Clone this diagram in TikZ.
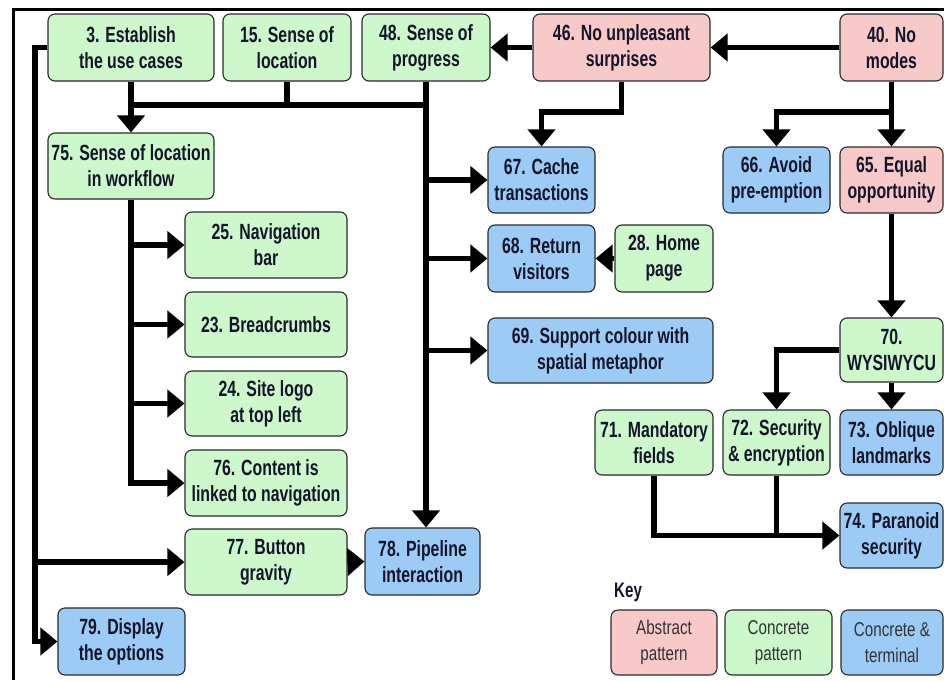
\documentclass[tikz,border=0pt]{standalone}
\usepackage{fontspec}
\usetikzlibrary{arrows.meta}
\newfontfamily\boxfont[FakeStretch=0.72]{Liberation Sans}
\newfontfamily\keyfont[FakeStretch=0.76]{Liberation Sans}

\definecolor{abstractfill}{HTML}{F7C9C9}
\definecolor{concretefill}{HTML}{CCF8CC}
\definecolor{terminalfill}{HTML}{9CCBF5}
\definecolor{boxline}{HTML}{2A2A2A}
\definecolor{labeltext}{HTML}{15152A}

% place a box by its corner coordinates
\newcommand{\patbox}[7]{%
  \node[#6, minimum width={(#4-#2)*1pt}, minimum height={(#5-#3)*1pt}]
    (#1) at ({(#2+#4)/2},{(#3+#5)/2}) {#7};}

\tikzset{
  pattern/.style={draw=boxline, line width=1.1pt, rounded corners=7pt,
    inner sep=0pt, align=center, text=labeltext,
    font=\boxfont\bfseries\fontsize{22}{26}\selectfont},
  abstract/.style={pattern, fill=abstractfill},
  concrete/.style={pattern, fill=concretefill},
  terminal/.style={pattern, fill=terminalfill},
  keybox/.style={font=\keyfont\fontsize{20}{26}\selectfont, text=black!80},
  conn/.style={draw=black, line width=5.5pt},
  arr/.style={conn, -{Triangle[length=17pt,width=27pt]}},
  frameline/.style={draw=black, line width=3pt}
}

\begin{document}
\begin{tikzpicture}[x=1pt, y=-1pt]
\useasboundingbox (0,0) rectangle (944,680);
\fill[white] (0,0) rectangle (944,680);

% frame lines on the top and left
\draw[frameline] (12,9) -- (944,9);
\draw[frameline] (13.5,8) -- (13.5,680);

% pattern boxes
\patbox{n3}{48}{14}{214}{81}{concrete}{3. Establish\\the use cases}
\patbox{n15}{223}{14}{351}{81}{concrete}{15. Sense of\\location}
\patbox{n48}{362}{14}{490}{81}{concrete}{48. Sense of\\progress}
\patbox{n46}{533}{14}{710}{81}{abstract}{46. No unpleasant\\surprises}
\patbox{n40}{840}{14}{943}{81}{abstract}{40. No\\modes}
\patbox{n75}{48}{133}{214}{199}{concrete}{75. Sense of location\\in workflow}
\patbox{n67}{488}{147}{595}{213}{terminal}{67. Cache\\transactions}
\patbox{n66}{723}{147}{830}{213}{terminal}{66. Avoid\\pre-emption}
\patbox{n65}{840}{147}{943}{213}{abstract}{65. Equal\\opportunity}
\patbox{n25}{185}{212}{347}{278}{concrete}{25. Navigation\\bar}
\patbox{n68}{488}{225}{595}{292}{terminal}{68. Return\\visitors}
\patbox{n28}{615}{225}{713}{292}{concrete}{28. Home\\page}
\patbox{n23}{185}{292}{347}{357}{concrete}{23. Breadcrumbs}
\patbox{n69}{488}{318}{713}{383}{terminal}{69. Support colour with\\spatial metaphor}
\patbox{n70}{840}{318}{943}{382}{concrete}{70.\\WYSIWYCU}
\patbox{n24}{185}{371}{347}{436}{concrete}{24. Site logo\\at top left}
\patbox{n71}{595}{410}{713}{475}{concrete}{71. Mandatory\\fields}
\patbox{n72}{723}{410}{830}{475}{concrete}{72. Security\\\& encryption}
\patbox{n73}{840}{410}{943}{475}{terminal}{73. Oblique\\landmarks}
\patbox{n76}{185}{450}{347}{516}{concrete}{76. Content is\\linked to navigation}
\patbox{n74}{840}{503}{943}{568}{terminal}{74. Paranoid\\security}
\patbox{n77}{185}{529}{347}{595}{concrete}{77. Button\\gravity}
\patbox{n78}{365}{528}{480}{595}{terminal}{78. Pipeline\\interaction}
\patbox{n79}{58}{608}{185}{675}{terminal}{79. Display\\the options}

% key
\node[anchor=base west, inner sep=0pt, text=labeltext,
  font=\boxfont\bfseries\fontsize{21}{24}\selectfont] (keytitle) at (614,597) {Key};
\patbox{k1}{611}{610}{717}{675}{abstract,keybox}{Abstract\\pattern}
\patbox{k2}{725}{610}{832}{675}{concrete,keybox}{Concrete\\pattern}
\patbox{k3}{841}{610}{943}{675}{terminal,keybox}{Concrete \&\\terminal}

% junction levels
\coordinate (trunk) at (35,0);
\coordinate (bus) at (0,105);
\coordinate (split) at (0,112);

% top row
\draw[arr] (n40.west) -- (n46.east);
\draw[arr] (n46.west) -- (n48.east);

% left trunk from 3
\draw[arr] (n3.west) -| (trunk |- n79.west) -- (n79.west);
\draw[arr] (trunk |- n77.west) -- (n77.west);

% bus joining 3, 15 and 48
\draw[conn] (n3.south |- bus) -- (n48.south |- bus);
\draw[conn] (n15.south) -- (n15.south |- bus);
\draw[arr] (n3.south) -- (n75.north);
\draw[arr] (n48.south) -- (n48.south |- n78.north);
\draw[arr] (n48.south |- n67.west) -- (n67.west);
\draw[arr] (n48.south |- n68.west) -- (n68.west);
\draw[arr] (n48.south |- n69.west) -- (n69.west);

% branches from 75
\draw[arr] (n75.south) |- (n76.west);
\draw[arr] (n75.south |- n25.west) -- (n25.west);
\draw[arr] (n75.south |- n23.west) -- (n23.west);
\draw[arr] (n75.south |- n24.west) -- (n24.west);

% 46 and 40 downwards
\draw[arr] (n46.south) -- (n46.south |- split) -| (n67.north);
\draw[arr] (n40.south) -- (n65.north);
\draw[arr] (n40.south |- split) -| (n66.north);
\draw[arr] (n28.west) -- (n68.east);

% right column
\draw[arr] (n65.south) -- (n70.north);
\draw[arr] (n70.south) -- (n73.north);
\draw[arr] (n70.west) -| (n72.north);
\draw[arr] (n71.south) |- (n74.west);
\draw[conn] (n72.south) -- (n72.south |- n74.west);

% button gravity to pipeline
\draw[arr] (n77.east) -- (n78.west);
\end{tikzpicture}
\end{document}
